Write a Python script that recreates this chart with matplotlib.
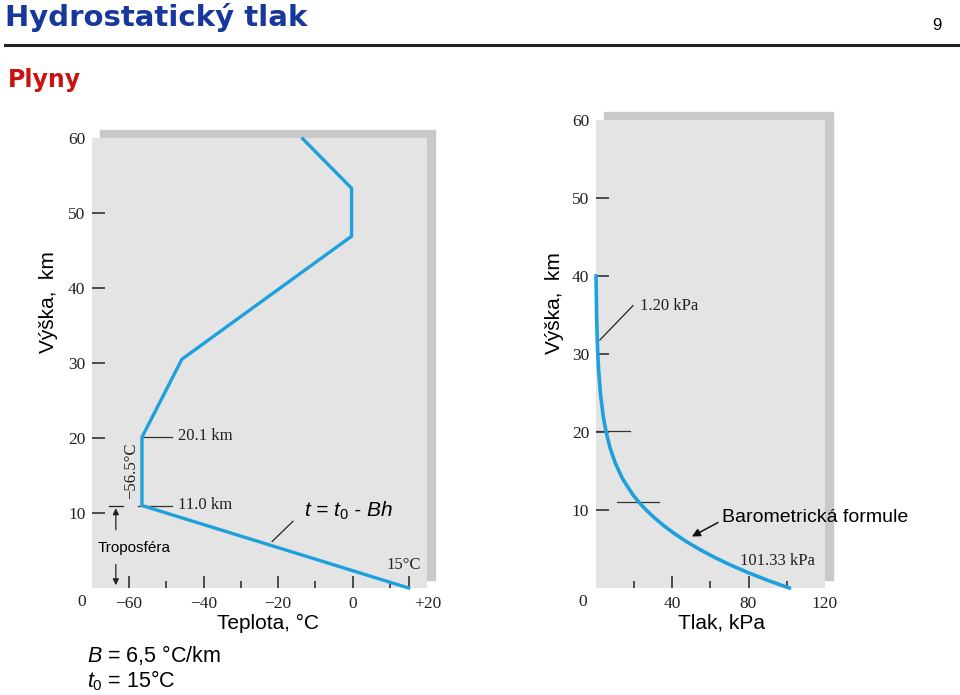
import matplotlib.pyplot as plt
from matplotlib.patches import Rectangle
from matplotlib.lines import Line2D

W, H = 960, 695

# temperature profile (°C vs km)
temp_c = [15, -56.5, -56.5, -45.8, -0.3, -0.3, -13.4]
temp_h = [0, 11.0, 20.1, 30.5, 46.9, 53.3, 59.9]

# pressure vs height (kPa vs km)
pres_h = [0, 1, 2, 3, 4, 5, 6, 7, 8, 9, 10, 11, 12, 14, 16, 18, 20, 22, 25, 28, 30, 32, 35, 40]
pres_kpa = [101.33, 89.88, 79.50, 70.12, 61.66, 54.05, 47.22, 41.11, 35.65, 30.80, 26.50,
            22.70, 19.40, 14.17, 10.35, 7.57, 5.53, 4.05, 2.55, 1.62, 1.20, 0.89, 0.57, 0.29]

h_ticks = [10, 20, 30, 40, 50, 60]
t_ticks = [-60, -40, -20, 0, 15, 20]
t_labels = ["\u221260", "\u221240", "\u221220", "0", "", "+20"]
t_minor = [-50, -30, -10, 10]
p_ticks = [40, 80, 120]
p_minor = [20, 60, 100]

BLUE = "#1ea0dc"
PANEL = "#e4e4e4"
SHADOW = "#c9c9c9"
SERIF = "Liberation Serif"
SANS = "Liberation Sans"

plt.rcParams["mathtext.fontset"] = "custom"
plt.rcParams["mathtext.rm"] = SANS
plt.rcParams["mathtext.it"] = SANS + ":italic"


def box(x0, y0, x1, y1):
    # pixel box (top-left origin) -> figure fraction [l, b, w, h]
    return [x0 / W, 1 - y1 / H, (x1 - x0) / W, (y1 - y0) / H]


fig = plt.figure(figsize=(9.6, 6.95), dpi=100)

# header
fig.text(5 / W, 1 - 18 / H, "Hydrostatický tlak", fontsize=21, fontweight="bold",
         color="#17379a", family="DejaVu Sans", va="center")
fig.text(937 / W, 1 - 25 / H, "9", fontsize=12, family=SANS, ha="center", va="center")
fig.add_artist(Line2D([5 / W, 1], [1 - 45 / H] * 2, color="#222222", lw=2.2,
                      transform=fig.transFigure))
fig.text(8 / W, 1 - 80 / H, "Plyny", fontsize=17, fontweight="bold",
         color="#cc1111", family="DejaVu Sans", va="center")


def panel(rect_px, xlim):
    x0, y0, x1, y1 = rect_px
    fig.add_artist(Rectangle(((x0 + 8) / W, 1 - (y1 - 8) / H), (x1 - x0) / W, (y1 - y0) / H,
                             transform=fig.transFigure, color=SHADOW, zorder=-1))
    ax = fig.add_axes(box(*rect_px))
    ax.set_facecolor(PANEL)
    ax.set_xlim(*xlim)
    ax.set_ylim(0, 60)
    for s in ax.spines.values():
        s.set_visible(False)
    ax.set_yticks(h_ticks)
    ax.set_yticklabels([str(v) for v in h_ticks], family=SERIF, fontsize=12.5, color="#222222")
    ax.tick_params(axis="y", direction="in", length=9, width=1.1, pad=4.5, color="#222222")
    ax.yaxis.get_major_ticks()[-1].tick1line.set_visible(False)
    ax.tick_params(axis="x", which="major", direction="in", length=9, width=1.1, pad=5.5,
                   color="#222222")
    ax.tick_params(axis="x", which="minor", direction="in", length=5, width=1.1, color="#222222")
    return ax


# ---- left: temperature
ax1 = panel((91.6, 138, 427.3, 588), (-70, 20))
ax1.set_xticks(t_ticks)
ax1.set_xticklabels(t_labels, family=SERIF, fontsize=12.5, color="#222222")
ax1.set_xticks(t_minor, minor=True)
ax1.xaxis.get_major_ticks()[-1].tick1line.set_visible(False)
ax1.plot(temp_c, temp_h, color=BLUE, lw=2.4, solid_joinstyle="miter", clip_on=False, zorder=3)

ax1.plot([-56.5, -48.5], [20.1, 20.1], color="#333333", lw=0.9)
ax1.plot([-57.5, -48.5], [11.0, 11.0], color="#333333", lw=0.9)
ax1.text(-46.8, 20.2, "20.1 km", family=SERIF, fontsize=12, va="center", color="#222222")
ax1.text(-46.8, 11.1, "11.0 km", family=SERIF, fontsize=12, va="center", color="#222222")
ax1.text(-59.4, 15.6, "\u221256.5°C", family=SERIF, fontsize=12, rotation=90,
         ha="center", va="center", color="#222222")
ax1.text(18.3, 3.1, "15°C", family=SERIF, fontsize=12, ha="right", va="center", color="#222222")

# troposphere arrow
ax1.plot([-65.4, -61.6], [11.0, 11.0], color="#222222", lw=0.9)
ax1.annotate("", xy=(-63.5, 11.0), xytext=(-63.5, 7.4),
             arrowprops=dict(arrowstyle="-|>", color="#222222", lw=0.9, mutation_scale=9))
ax1.annotate("", xy=(-63.5, 0.0), xytext=(-63.5, 3.5),
             arrowprops=dict(arrowstyle="-|>", color="#222222", lw=0.9, mutation_scale=9))
ax1.text(-58.6, 5.3, "Troposféra", family=SANS, fontsize=11, ha="center", va="center")

ax1.plot([-21.6, -16.0], [6.2, 8.9], color="#222222", lw=0.9)
ax1.text(-13.0, 10.3, "$t$ = $t_\\mathrm{0}$ - $Bh$", family=SANS, fontsize=15,
         style="italic", va="center")

fig.text(82 / W, 1 - 602 / H, "0", family=SERIF, fontsize=12.5, ha="center", va="center",
         color="#222222")
fig.text(268 / W, 1 - 623 / H, "Teplota, °C", family=SANS, fontsize=15, ha="center",
         va="center")
fig.text(49 / W, 1 - 302 / H, "Výška,  km", family=SANS, fontsize=15, rotation=90,
         ha="center", va="center")

# ---- right: pressure
ax2 = panel((595.5, 120, 825, 588), (0, 120))
ax2.set_xticks(p_ticks)
ax2.set_xticklabels([str(v) for v in p_ticks], family=SERIF, fontsize=12.5, color="#222222")
ax2.set_xticks(p_minor, minor=True)
ax2.xaxis.get_major_ticks()[-1].tick1line.set_visible(False)
ax2.plot(pres_kpa, pres_h, color=BLUE, lw=2.6, clip_on=False, zorder=3)

ax2.plot([0, 18.0], [20.1, 20.1], color="#333333", lw=0.9)
ax2.plot([11.2, 33.2], [11.0, 11.0], color="#333333", lw=0.9)
ax2.plot([2.3, 19.6], [31.8, 36.2], color="#222222", lw=0.9)
ax2.text(23.3, 36.2, "1.20 kPa", family=SERIF, fontsize=12, va="center", color="#222222")
ax2.text(75.5, 3.5, "101.33 kPa", family=SERIF, fontsize=12, va="center", color="#222222")
ax2.annotate("Barometrická formule", xy=(50.4, 6.6), xytext=(66.1, 9.1),
             family=SANS, fontsize=14, va="center", annotation_clip=False,
             arrowprops=dict(arrowstyle="-|>", color="#111111", lw=1.1, mutation_scale=12,
                             shrinkA=1, shrinkB=0, relpos=(0, 0.3)))

fig.text(583 / W, 1 - 602 / H, "0", family=SERIF, fontsize=12.5, ha="center", va="center",
         color="#222222")
fig.text(722 / W, 1 - 623 / H, "Tlak, kPa", family=SANS, fontsize=15, ha="center",
         va="center")
fig.text(554 / W, 1 - 303 / H, "Výška,  km", family=SANS, fontsize=15, rotation=90,
         ha="center", va="center")

# ---- constants
fig.text(87 / W, 1 - 655 / H, "$B$ = 6,5 °C/km", family=SANS, fontsize=15.5, va="center")
fig.text(87 / W, 1 - 681 / H, "$t_\\mathrm{0}$ = 15°C", family=SANS, fontsize=15.5,
         va="center")

fig.savefig("out.png", dpi=100)
